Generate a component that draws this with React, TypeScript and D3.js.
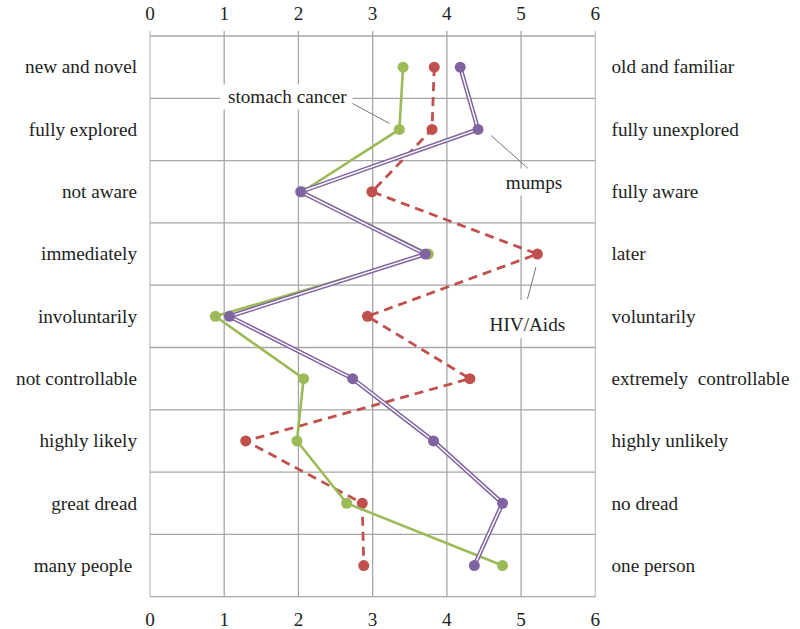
import React from "react";
import * as d3 from "d3";

const leftLabels = ["new and novel", "fully explored", "not aware", "immediately", "involuntarily", "not controllable", "highly likely", "great dread", "many people "];
const rightLabels = ["old and familiar", "fully unexplored", "fully aware", "later", "voluntarily", "extremely  controllable", "highly unlikely", "no dread", "one person"];
const xTicks = [0, 1, 2, 3, 4, 5, 6];

const hivValues = [3.83, 3.80, 2.99, 5.22, 2.93, 4.31, 1.29, 2.86, 2.88];
const stomachValues = [3.41, 3.36, 2.05, 3.75, 0.88, 2.07, 1.98, 2.65, 4.75];
const mumpsValues = [4.18, 4.42, 2.03, 3.71, 1.07, 2.73, 3.82, 4.75, 4.37];

const W = 800, H = 629;
const FONT = "'Liberation Serif', 'Times New Roman', serif";
const FS = 19.2;

export default function App() {
  const x = d3.scaleLinear().domain([0, 6]).range([150, 595.3]);
  const y = d3.scaleBand<number>().domain(d3.range(leftLabels.length)).range([36, 596.7]);
  const yc = (i: number) => (y(i) as number) + y.bandwidth() / 2;
  const line = d3.line<number>().x((d) => x(d)).y((_, i) => yc(i));

  const rowEdges = d3.range(leftLabels.length + 1).map((i) => 36 + i * y.bandwidth());
  const top = 36, bottom = 596.7;

  const red = "#C0504D", green = "#9BBB59", purple = "#8064A2";
  const grid = "#a6a6a6";

  const stomachPt = { x: x(stomachValues[1]), y: yc(1) };
  const mumpsPt = { x: x(mumpsValues[1]), y: yc(1) };
  const hivPt = { x: x(hivValues[3]), y: yc(3) };

  return (
    <svg width={W} height={H} style={{ position: "absolute", left: 0, top: 0, background: "#fff" }} fontFamily={FONT}>
      <rect width={W} height={H} fill="#fff" />
      {/* vertical gridlines */}
      {xTicks.map((t) => (
        <line key={"v" + t} x1={x(t)} x2={x(t)} y1={top - 5} y2={bottom} stroke={t === 0 || t === 6 ? "#c4c4c4" : grid} strokeWidth={1.3} />
      ))}
      {/* horizontal gridlines */}
      {rowEdges.map((yy, i) => (
        <line key={"h" + i} x1={x(0)} x2={x(6)} y1={yy} y2={yy} stroke={grid} strokeWidth={1.3} />
      ))}
      {/* tick labels */}
      {xTicks.map((t) => (
        <g key={"t" + t}>
          <text x={x(t)} y={20} textAnchor="middle" fontSize={FS} fill="#222">{t}</text>
          <text x={x(t)} y={626} textAnchor="middle" fontSize={FS} fill="#222">{t}</text>
        </g>
      ))}
      {/* category labels */}
      {leftLabels.map((l, i) => (
        <text key={"l" + i} x={137} y={yc(i)} dy="0.33em" textAnchor="end" fontSize={FS} fill="#222" style={{ whiteSpace: "pre" }}>{l}</text>
      ))}
      {rightLabels.map((l, i) => (
        <text key={"r" + i} x={611.5} y={yc(i)} dy="0.33em" textAnchor="start" fontSize={FS} fill="#222" style={{ whiteSpace: "pre" }}>{l}</text>
      ))}

      {/* annotations */}
      <rect x={stomachPt.x - 179} y={stomachPt.y - 45} width={132} height={25} fill="#fff" />
      <text x={stomachPt.x - 112} y={stomachPt.y - 33} dy="0.33em" textAnchor="middle" fontSize={FS} fill="#222">stomach cancer</text>
      <line x1={stomachPt.x - 47} y1={stomachPt.y - 26} x2={stomachPt.x - 10} y2={stomachPt.y - 6} stroke="#777" strokeWidth={1} />

      <rect x={mumpsPt.x + 22} y={mumpsPt.y + 39} width={68} height={27} fill="#fff" />
      <text x={mumpsPt.x + 56} y={mumpsPt.y + 53} dy="0.33em" textAnchor="middle" fontSize={FS} fill="#222">mumps</text>
      <line x1={mumpsPt.x + 13} y1={mumpsPt.y + 6} x2={mumpsPt.x + 50} y2={mumpsPt.y + 39} stroke="#777" strokeWidth={1} />

      <rect x={hivPt.x - 51} y={hivPt.y + 46} width={82} height={38} fill="#fff" />
      <text x={hivPt.x - 10} y={hivPt.y + 71} dy="0.33em" textAnchor="middle" fontSize={FS} fill="#222">HIV/Aids</text>
      <line x1={hivPt.x - 1.5} y1={hivPt.y + 13} x2={hivPt.x - 10} y2={hivPt.y + 45} stroke="#777" strokeWidth={1} />

      {/* HIV/Aids series */}
      <path d={line(hivValues) || ""} fill="none" stroke={red} strokeWidth={2.8} strokeDasharray="9,6" />
      {hivValues.map((v, i) => <circle key={"hc" + i} cx={x(v)} cy={yc(i)} r={5.5} fill={red} />)}

      {/* stomach cancer series */}
      <path d={line(stomachValues) || ""} fill="none" stroke={green} strokeWidth={2.6} />
      {stomachValues.map((v, i) => <circle key={"sc" + i} cx={x(v)} cy={yc(i)} r={5.5} fill={green} />)}

      {/* mumps series (double line) */}
      <path d={line(mumpsValues) || ""} fill="none" stroke={purple} strokeWidth={4.4} strokeLinejoin="round" />
      <path d={line(mumpsValues) || ""} fill="none" stroke="#fff" strokeWidth={1.4} strokeLinejoin="round" />
      {mumpsValues.map((v, i) => <circle key={"mc" + i} cx={x(v)} cy={yc(i)} r={5.5} fill={purple} />)}
    </svg>
  );
}
